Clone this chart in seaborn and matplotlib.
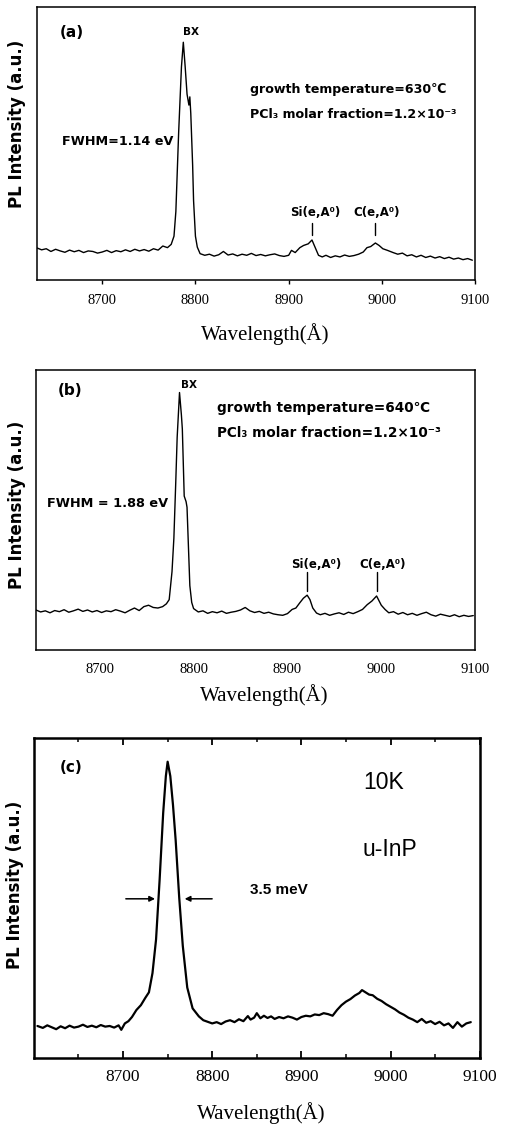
import numpy as np
import pandas as pd
import matplotlib
matplotlib.use("Agg")
import matplotlib.pyplot as plt
import seaborn as sns

# ---- panel (a): 630 C growth ----
wl_a = [8630, 8635, 8640, 8645, 8650, 8655, 8660, 8665, 8670, 8675,
        8680, 8685, 8690, 8695, 8700, 8705, 8710, 8715, 8720, 8725,
        8730, 8735, 8740, 8745, 8750, 8755, 8760, 8765, 8770, 8774,
        8777, 8779, 8782, 8785, 8787, 8789, 8791, 8793, 8794, 8795,
        8797, 8798, 8800, 8802, 8805, 8810, 8815, 8820, 8825, 8830,
        8835, 8840, 8845, 8850, 8855, 8860, 8865, 8870, 8875, 8880,
        8885, 8890, 8895, 8900, 8903, 8907, 8912, 8916, 8921, 8925,
        8928, 8932, 8936, 8940, 8945, 8950, 8955, 8960, 8965, 8970,
        8975, 8980, 8984, 8988, 8993, 8997, 9001, 9006, 9012, 9017,
        9022, 9027, 9032, 9037, 9042, 9047, 9052, 9057, 9062, 9067,
        9072, 9077, 9082, 9087, 9092, 9097]
pl_a = [0.117, 0.110, 0.114, 0.104, 0.112, 0.106, 0.101, 0.109, 0.103, 0.108,
        0.100, 0.106, 0.104, 0.098, 0.102, 0.108, 0.100, 0.107, 0.103, 0.110,
        0.104, 0.112, 0.106, 0.111, 0.105, 0.114, 0.109, 0.124, 0.118, 0.130,
        0.160, 0.250, 0.540, 0.780, 0.870, 0.780, 0.680, 0.640, 0.670, 0.610,
        0.420, 0.290, 0.160, 0.120, 0.096, 0.090, 0.094, 0.087, 0.092, 0.104,
        0.091, 0.095, 0.088, 0.094, 0.090, 0.097, 0.089, 0.093, 0.088, 0.092,
        0.095, 0.089, 0.086, 0.090, 0.108, 0.100, 0.118, 0.126, 0.132, 0.146,
        0.122, 0.090, 0.084, 0.090, 0.082, 0.088, 0.084, 0.091, 0.086, 0.089,
        0.094, 0.102, 0.118, 0.122, 0.135, 0.126, 0.114, 0.108, 0.100, 0.094,
        0.098, 0.088, 0.092, 0.084, 0.090, 0.082, 0.087, 0.080, 0.085, 0.078,
        0.083, 0.076, 0.080, 0.074, 0.078, 0.072]

# ---- panel (b): 640 C growth ----
wl_b = [8632, 8637, 8642, 8647, 8652, 8657, 8662, 8667, 8672, 8677,
        8682, 8687, 8692, 8697, 8702, 8707, 8712, 8717, 8722, 8727,
        8732, 8737, 8742, 8747, 8752, 8757, 8762, 8767, 8771, 8774,
        8777, 8779, 8781, 8782.5, 8785, 8787, 8788, 8790, 8792, 8793,
        8796, 8798, 8800, 8805, 8810, 8815, 8820, 8825, 8830, 8835,
        8840, 8845, 8850, 8855, 8860, 8865, 8870, 8875, 8880, 8885,
        8890, 8895, 8900, 8905, 8909, 8913, 8917, 8921, 8924, 8927,
        8931, 8935, 8940, 8945, 8950, 8955, 8960, 8965, 8970, 8975,
        8980, 8985, 8990, 8995, 9000, 9004, 9008, 9013, 9018, 9023,
        9028, 9033, 9038, 9043, 9048, 9053, 9058, 9063, 9068, 9073,
        9078, 9083, 9088, 9093, 9098]
pl_b = [0.143, 0.136, 0.140, 0.133, 0.141, 0.137, 0.144, 0.135, 0.140, 0.146,
        0.138, 0.143, 0.136, 0.141, 0.134, 0.140, 0.137, 0.144, 0.139, 0.133,
        0.142, 0.150, 0.141, 0.155, 0.160, 0.152, 0.150, 0.155, 0.165, 0.180,
        0.280, 0.400, 0.600, 0.760, 0.920, 0.840, 0.790, 0.550, 0.530, 0.510,
        0.230, 0.170, 0.148, 0.136, 0.140, 0.131, 0.137, 0.133, 0.139, 0.131,
        0.135, 0.138, 0.143, 0.152, 0.140, 0.134, 0.138, 0.131, 0.135, 0.129,
        0.126, 0.124, 0.130, 0.145, 0.150, 0.168, 0.185, 0.196, 0.180, 0.150,
        0.132, 0.126, 0.131, 0.124, 0.129, 0.133, 0.127, 0.135, 0.130, 0.137,
        0.145, 0.162, 0.175, 0.193, 0.160, 0.145, 0.133, 0.137, 0.128, 0.134,
        0.126, 0.131, 0.124, 0.130, 0.135, 0.126, 0.121, 0.128, 0.124, 0.120,
        0.126, 0.119, 0.124, 0.120, 0.123]

# ---- panel (c): u-InP at 10K ----
wl_c = [8604, 8610, 8615, 8620, 8625, 8630, 8635, 8640, 8645, 8650,
        8655, 8660, 8665, 8670, 8675, 8680, 8685, 8690, 8695, 8698,
        8702, 8706, 8710, 8715, 8720, 8725, 8729, 8733, 8737, 8741,
        8745, 8748, 8750, 8753, 8756, 8759, 8763, 8767, 8772, 8778,
        8785, 8790, 8795, 8800, 8805, 8810, 8815, 8820, 8825, 8830,
        8835, 8840, 8843, 8847, 8850, 8854, 8858, 8862, 8866, 8870,
        8875, 8880, 8885, 8890, 8895, 8900, 8905, 8910, 8915, 8920,
        8925, 8930, 8935, 8940, 8945, 8950, 8955, 8960, 8965, 8968,
        8972, 8976, 8980, 8985, 8990, 8995, 9000, 9005, 9010, 9015,
        9020, 9025, 9030, 9035, 9040, 9045, 9050, 9055, 9060, 9065,
        9070, 9075, 9080, 9085, 9090]
pl_c = [0.100, 0.094, 0.102, 0.096, 0.090, 0.099, 0.093, 0.101, 0.095, 0.098,
        0.104, 0.097, 0.101, 0.096, 0.103, 0.098, 0.100, 0.095, 0.102, 0.088,
        0.108, 0.115, 0.128, 0.150, 0.165, 0.188, 0.205, 0.265, 0.370, 0.556,
        0.765, 0.880, 0.925, 0.880, 0.790, 0.680, 0.500, 0.350, 0.220, 0.155,
        0.130, 0.118, 0.113, 0.108, 0.112, 0.106, 0.114, 0.118, 0.112, 0.121,
        0.115, 0.131, 0.120, 0.126, 0.140, 0.124, 0.132, 0.125, 0.130, 0.122,
        0.128, 0.124, 0.130, 0.126, 0.120, 0.128, 0.132, 0.130, 0.136, 0.134,
        0.140, 0.137, 0.132, 0.150, 0.165, 0.176, 0.184, 0.195, 0.203, 0.212,
        0.205, 0.198, 0.196, 0.185, 0.178, 0.168, 0.160, 0.152, 0.142, 0.135,
        0.126, 0.120, 0.112, 0.122, 0.110, 0.115, 0.106, 0.113, 0.102, 0.108,
        0.094, 0.112, 0.098, 0.108, 0.112]

ticks = [8700, 8800, 8900, 9000, 9100]
fwhm_arrow_c = [8700, 8739, 8766, 8803]

sns.set_style("white")
plt.rcParams['font.family'] = ['DejaVu Sans']
plt.rcParams['text.color'] = 'black'
plt.rcParams['axes.labelcolor'] = 'black'
plt.rcParams['xtick.color'] = 'black'

SERIF = ['Liberation Serif', 'DejaVu Serif']
SANS = ['Liberation Sans', 'DejaVu Sans']

fig = plt.figure(figsize=(5.06, 11.24), dpi=100)
ax_a = fig.add_axes([0.073, 0.751, 0.866, 0.243])
ax_b = fig.add_axes([0.071, 0.4217, 0.868, 0.249])
ax_c = fig.add_axes([0.067, 0.0587, 0.881, 0.285])


def base_axes(ax, xlim, lw, tick_fs):
    ax.set_xlim(*xlim)
    ax.set_ylim(0, 1)
    ax.set_xticks(ticks)
    ax.set_yticks([])
    for s in ax.spines.values():
        s.set_color('black')
        s.set_linewidth(lw)
    for lab in ax.get_xticklabels():
        lab.set_family(SERIF)
        lab.set_fontsize(tick_fs)
    ax.set_ylabel("PL Intensity (a.u.)", fontweight='bold', fontsize=12)
    ax.set_xlabel("Wavelength(Å)", family=SERIF, fontsize=15)
    ax.xaxis.label.set_va('center')


# (a)
sns.lineplot(x=wl_a, y=pl_a, ax=ax_a, color='black', lw=1.0, estimator=None)
base_axes(ax_a, (8630, 9100), 1.1, 10.5)
ax_a.tick_params(axis='x', direction='out', length=3, width=1, pad=7, bottom=True)
ax_a.yaxis.set_label_coords(-0.025, 0.57)
ax_a.xaxis.set_label_coords(0.52, -0.2)
ax_a.text(0.053, 0.905, "(a)", transform=ax_a.transAxes, fontsize=11, fontweight='bold', va='center')
ax_a.text(0.352, 0.908, "BX", transform=ax_a.transAxes, fontsize=7.5, fontweight='bold', va='center', ha='center')
ax_a.text(0.486, 0.696, "growth temperature=630℃", transform=ax_a.transAxes,
          fontsize=9.1, fontweight='bold', va='center')
ax_a.text(0.486, 0.604, "PCl₃ molar fraction=1.2×10⁻³", transform=ax_a.transAxes,
          fontsize=9.1, fontweight='bold', va='center')
ax_a.text(0.057, 0.505, "FWHM=1.14 eV", transform=ax_a.transAxes, fontsize=9.2, fontweight='bold', va='center')
ax_a.text(0.635, 0.245, "Si(e,A⁰)", transform=ax_a.transAxes, fontsize=8.5, fontweight='bold', va='center', ha='center')
ax_a.text(0.776, 0.245, "C(e,A⁰)", transform=ax_a.transAxes, fontsize=8.5, fontweight='bold', va='center', ha='center')
ax_a.plot([8925, 8925], [0.165, 0.21], color='black', lw=1)
ax_a.plot([8993, 8993], [0.165, 0.21], color='black', lw=1)

# (b)
sns.lineplot(x=wl_b, y=pl_b, ax=ax_b, color='black', lw=1.0, estimator=None)
base_axes(ax_b, (8632, 9100), 1.1, 10.5)
ax_b.tick_params(axis='x', direction='out', length=0, pad=9, bottom=True)
ax_b.yaxis.set_label_coords(-0.023, 0.52)
ax_b.xaxis.set_label_coords(0.52, -0.16)
ax_b.text(0.05, 0.929, "(b)", transform=ax_b.transAxes, fontsize=11, fontweight='bold', va='center')
ax_b.text(0.349, 0.946, "BX", transform=ax_b.transAxes, fontsize=7.5, fontweight='bold', va='center', ha='center')
ax_b.text(0.412, 0.864, "growth temperature=640℃", transform=ax_b.transAxes,
          fontsize=9.8, fontweight='bold', va='center')
ax_b.text(0.412, 0.775, "PCl₃ molar fraction=1.2×10⁻³", transform=ax_b.transAxes,
          fontsize=9.8, fontweight='bold', va='center')
ax_b.text(0.025, 0.525, "FWHM = 1.88 eV", transform=ax_b.transAxes, fontsize=9.3, fontweight='bold', va='center')
ax_b.text(0.639, 0.304, "Si(e,A⁰)", transform=ax_b.transAxes, fontsize=8.5, fontweight='bold', va='center', ha='center')
ax_b.text(0.79, 0.304, "C(e,A⁰)", transform=ax_b.transAxes, fontsize=8.5, fontweight='bold', va='center', ha='center')
ax_b.plot([8921, 8921], [0.21, 0.28], color='black', lw=1)
ax_b.plot([8995, 8995], [0.21, 0.28], color='black', lw=1)

# (c)
sns.lineplot(x=wl_c, y=pl_c, ax=ax_c, color='black', lw=1.6, estimator=None)
base_axes(ax_c, (8600, 9100), 1.8, 12.5)
ax_c.set_xticks([8650, 8750, 8850, 8950, 9050], minor=True)
ax_c.tick_params(axis='x', which='major', direction='in', length=5, width=1.3, pad=8,
                 bottom=True, top=True)
ax_c.tick_params(axis='x', which='minor', direction='in', length=3, width=1.1,
                 bottom=True, top=True)
ax_c.yaxis.set_label_coords(-0.022, 0.54)
ax_c.xaxis.set_label_coords(0.51, -0.172)
ax_c.text(0.058, 0.906, "(c)", transform=ax_c.transAxes, fontsize=11, fontweight='bold', va='center')
ax_c.text(0.738, 0.86, "10K", transform=ax_c.transAxes, fontsize=16.5, family=SANS, va='center')
ax_c.text(0.738, 0.65, "u-InP", transform=ax_c.transAxes, fontsize=16.5, family=SANS, va='center')
ax_c.text(0.484, 0.525, "3.5 meV", transform=ax_c.transAxes, fontsize=11, family=SANS,
          fontweight='bold', va='center')
ax_c.annotate("", xy=(fwhm_arrow_c[1], 0.497), xytext=(fwhm_arrow_c[0], 0.497),
              arrowprops=dict(arrowstyle='-|>', color='black', lw=1.1, mutation_scale=8))
ax_c.annotate("", xy=(fwhm_arrow_c[2], 0.497), xytext=(fwhm_arrow_c[3], 0.497),
              arrowprops=dict(arrowstyle='-|>', color='black', lw=1.1, mutation_scale=8))

fig.savefig("out.png", dpi=100)
